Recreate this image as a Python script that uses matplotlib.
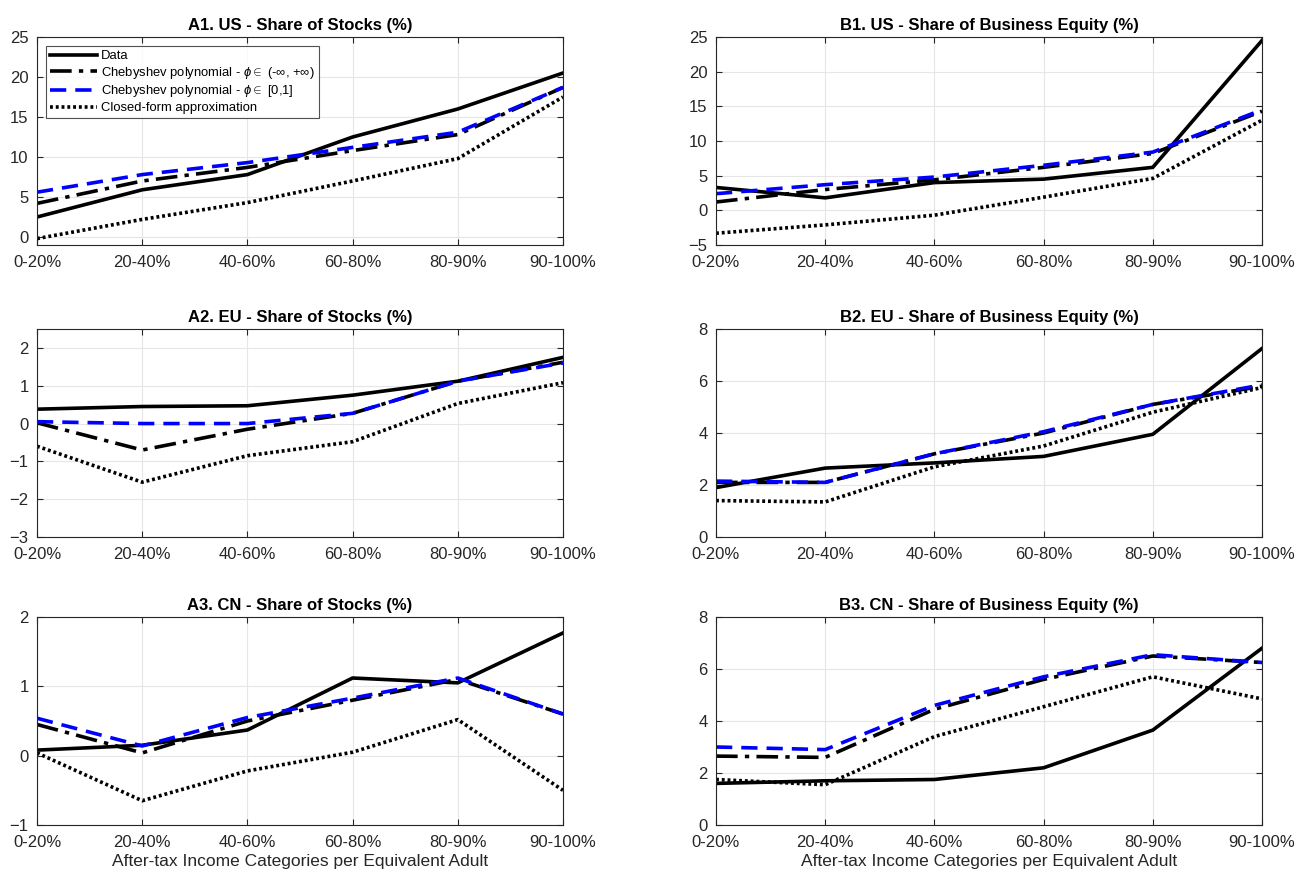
import numpy as np
import matplotlib
matplotlib.use('Agg')
import matplotlib.pyplot as plt

plt.rcParams['font.family'] = ['Liberation Sans', 'DejaVu Sans']
plt.rcParams['mathtext.fontset'] = 'custom'
plt.rcParams['mathtext.rm'] = 'Liberation Sans'
plt.rcParams['mathtext.it'] = 'Liberation Sans:italic'

categories = ['0-20%', '20-40%', '40-60%', '60-80%', '80-90%', '90-100%']

# A1. US - stocks
us_stk_data = [2.5, 5.9, 7.8, 12.5, 16.0, 20.5]
us_stk_cheb = [4.2, 7.0, 8.7, 10.8, 12.8, 18.7]
us_stk_cheb01 = [5.6, 7.8, 9.3, 11.2, 13.1, 18.7]
us_stk_closed = [-0.2, 2.2, 4.3, 7.0, 9.8, 17.5]

# B1. US - business equity
us_bus_data = [3.3, 1.8, 4.0, 4.5, 6.2, 24.5]
us_bus_cheb = [1.2, 3.0, 4.4, 6.2, 8.2, 14.3]
us_bus_cheb01 = [2.4, 3.7, 4.8, 6.5, 8.4, 14.5]
us_bus_closed = [-3.3, -2.1, -0.7, 1.9, 4.6, 13.0]

# A2. EU - stocks
eu_stk_data = [0.38, 0.45, 0.47, 0.75, 1.12, 1.75]
eu_stk_cheb = [0.02, -0.70, -0.15, 0.27, 1.12, 1.62]
eu_stk_cheb01 = [0.05, 0.0, 0.0, 0.27, 1.12, 1.60]
eu_stk_closed = [-0.60, -1.55, -0.85, -0.48, 0.53, 1.08]

# B2. EU - business equity
eu_bus_data = [1.9, 2.65, 2.85, 3.1, 3.95, 7.25]
eu_bus_cheb = [2.1, 2.1, 3.2, 4.0, 5.1, 5.8]
eu_bus_cheb01 = [2.15, 2.1, 3.2, 4.05, 5.1, 5.85]
eu_bus_closed = [1.4, 1.35, 2.7, 3.5, 4.8, 5.75]

# A3. CN - stocks
cn_stk_data = [0.08, 0.15, 0.37, 1.12, 1.05, 1.77]
cn_stk_cheb = [0.45, 0.04, 0.50, 0.80, 1.10, 0.60]
cn_stk_cheb01 = [0.54, 0.14, 0.55, 0.83, 1.12, 0.60]
cn_stk_closed = [0.04, -0.65, -0.22, 0.05, 0.52, -0.50]

# B3. CN - business equity
cn_bus_data = [1.6, 1.7, 1.75, 2.2, 3.65, 6.8]
cn_bus_cheb = [2.65, 2.6, 4.45, 5.6, 6.5, 6.25]
cn_bus_cheb01 = [3.0, 2.9, 4.6, 5.7, 6.55, 6.25]
cn_bus_closed = [1.75, 1.55, 3.4, 4.55, 5.7, 4.85]

labels = ['Data',
          r'Chebyshev polynomial - $\phi \in$ (-$\infty$, +$\infty$)',
          r'Chebyshev polynomial - $\phi \in$ [0,1]',
          'Closed-form approximation']

panels = [
    ('A1. US - Share of Stocks (%)', [us_stk_data, us_stk_cheb, us_stk_cheb01, us_stk_closed], (-1, 25), np.arange(0, 26, 5)),
    ('B1. US - Share of Business Equity (%)', [us_bus_data, us_bus_cheb, us_bus_cheb01, us_bus_closed], (-5, 25), np.arange(-5, 26, 5)),
    ('A2. EU - Share of Stocks (%)', [eu_stk_data, eu_stk_cheb, eu_stk_cheb01, eu_stk_closed], (-3, 2.5), np.arange(-3, 3, 1)),
    ('B2. EU - Share of Business Equity (%)', [eu_bus_data, eu_bus_cheb, eu_bus_cheb01, eu_bus_closed], (0, 8), np.arange(0, 9, 2)),
    ('A3. CN - Share of Stocks (%)', [cn_stk_data, cn_stk_cheb, cn_stk_cheb01, cn_stk_closed], (-1, 2), np.arange(-1, 3, 1)),
    ('B3. CN - Share of Business Equity (%)', [cn_bus_data, cn_bus_cheb, cn_bus_cheb01, cn_bus_closed], (0, 8), np.arange(0, 9, 2)),
]

W, H = 1298, 873
fig = plt.figure(figsize=(W / 100, H / 100), dpi=100)

col_x = [(37, 563), (716, 1262)]
row_bottom = [245, 537, 825]
ax_h = 208

styles = [dict(color='black', ls='-'),
          dict(color='black', ls=(0, (6, 2, 1.2, 2))),
          dict(color='#0000ff', ls=(0, (4.5, 2.5))),
          dict(color='black', ls=(0, (0.8, 0.8)))]

x = np.arange(len(categories))
for i, (title, series, ylim, yticks) in enumerate(panels):
    r, c = divmod(i, 2)
    x0, x1 = col_x[c]
    yb = row_bottom[r]
    ax = fig.add_axes([x0 / W, 1 - yb / H, (x1 - x0) / W, ax_h / H])
    for s, st, lab in zip(series, styles, labels):
        ax.plot(x, s, lw=2.6, label=lab, **st)
    ax.set_xlim(0, len(categories) - 1)
    ax.set_ylim(*ylim)
    ax.set_yticks(yticks)
    ax.set_xticks(x)
    ax.set_xticklabels(categories)
    ax.grid(True, color='#e6e6e6', lw=0.8)
    ax.set_axisbelow(True)
    ax.tick_params(direction='in', length=4, top=True, right=True,
                   labelsize=12, labelcolor='#262626', color='#262626')
    ax.tick_params(axis='x', pad=7)
    ax.tick_params(axis='y', pad=6)
    for sp in ax.spines.values():
        sp.set_color('#262626')
        sp.set_linewidth(0.8)
    ax.set_title(title, fontsize=12, fontweight='bold', pad=5)
    if r == 2:
        ax.set_xlabel('After-tax Income Categories per Equivalent Adult', fontsize=12.5, color='#262626', labelpad=3)
    if i == 0:
        leg = ax.legend(loc='upper left', fontsize=9.4, frameon=True, fancybox=False,
                        edgecolor='#262626', borderpad=0.3, labelspacing=0.2,
                        handlelength=3.6, handletextpad=0.3, borderaxespad=0.7)
        leg.get_frame().set_linewidth(0.8)

fig.savefig('out.png', dpi=100)
